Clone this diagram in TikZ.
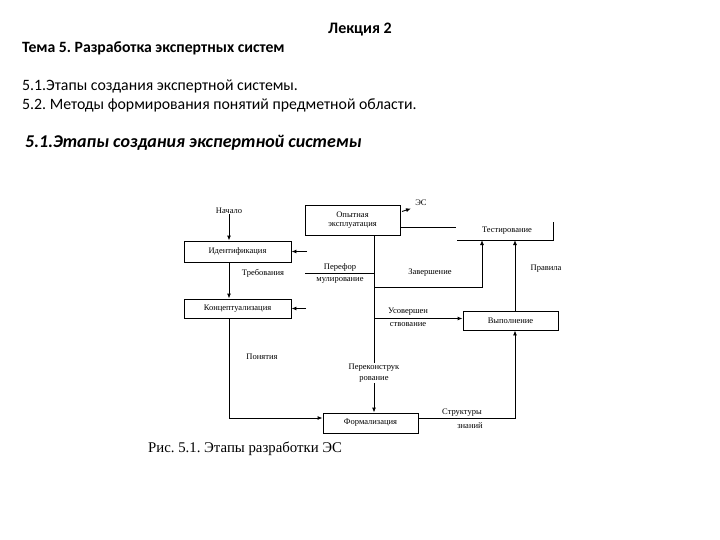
\documentclass[tikz,border=0pt]{standalone}
\usepackage{fontspec}
\setmainfont{Carlito}
\newfontfamily\tnr{Liberation Serif}
\usetikzlibrary{arrows.meta}
\frenchspacing
\begin{document}
\frenchspacing
\begin{tikzpicture}[x=1pt,y=-1pt,
  arr/.style={draw, line width=0.9pt, -{Latex[length=5pt,width=4pt]}},
  ln/.style={draw, line width=0.9pt},
  box/.style={draw, line width=0.9pt, inner sep=0pt, align=center, font=\tnr\fontsize{8.5}{9.5}\selectfont},
  lab/.style={inner sep=0pt, align=center, font=\tnr\fontsize{8.5}{10.5}\selectfont},
  hdr/.style={inner sep=0pt, anchor=west, font=\fontsize{15.8}{18}\selectfont}]
\useasboundingbox (0,0) rectangle (720,540);
% header texts
\node[inner sep=0pt, font=\fontsize{16}{18}\selectfont\bfseries] (lek) at (360,30) {Лекция 2};
\node[hdr, font=\fontsize{15.7}{18}\selectfont\bfseries] (tema) at (22,48) {Тема 5. Разработка экспертных систем};
\node[hdr] (p1) at (22,86) {5.1.Этапы создания экспертной системы.};
\node[hdr] (p2) at (22,105) {5.2. Методы формирования понятий предметной области.};
\node[hdr, font=\fontsize{18}{20}\selectfont\bfseries\itshape] (sec) at (25,143) {5.1.Этапы создания экспертной системы};
% boxes
\node[box, minimum width=107pt, minimum height=21pt] (ident) at (237.5,251.5) {Идентификация};
\node[box, minimum width=107pt, minimum height=19pt] (konc) at (237.5,308.5) {Концептуализация};
\node[box, minimum width=95pt, minimum height=20pt] (form) at (370.5,423) {Формализация};
\node[box, minimum width=95pt, minimum height=19pt] (vyp) at (510.5,320.5) {Выполнение};
\node[box, minimum width=95pt, minimum height=30pt] (opyt) at (352.5,220) {Опытная\\эксплуатация};
\node[lab] (test) at (507,231) {Тестирование};
% coordinates
\coordinate (spine) at (374,0);
\coordinate (pr) at (515,240);
\coordinate (zt) at (482,240);
\coordinate (zv) at (374,287);
\coordinate (pf) at (305,273);
\coordinate (a1) at (307,251.5);
\coordinate (a2) at (306,308.5);
\coordinate (t1) at (456,227);
\coordinate (tb1) at (457,240);
\coordinate (tb2) at (553,240);
\coordinate (tb3) at (553,222);
\coordinate (es1) at (402,211.5);
\coordinate (es2) at (411,208.5);
% Тестирование outline pieces
\draw[ln] (opyt.east |- t1) -- (t1);
\draw[ln] (tb1) -- (tb2) -- (tb3);
% labels
\node[lab] (nach) at (229,211) {Начало};
\node[lab] (treb) at (263,273) {Требования};
\node[lab] (pon) at (262,357) {Понятия};
\node[lab] (zav) at (430,273) {Завершение};
\node[lab] (prav) at (546,269) {Правила};
\node[lab] (pf1) at (340,267) {Перефор};
\node[lab] (pf2) at (340,280) {мулирование};
\node[lab] (us1) at (408,312) {Усовершен};
\node[lab] (us2) at (408,325) {ствование};
\node[lab] (st1) at (462,413) {Структуры};
\node[lab] (st2) at (470,426) {знаний};
\node[lab] (es) at (421,203) {ЭС};
% connectors
\draw[arr] (nach.south) -- (nach.south |- ident.north);
\draw[arr] (ident.south -| nach) -- (konc.north -| nach);
\draw[arr] (konc.south -| nach) |- ([yshift=5pt]form.west);
\draw[arr] (opyt.south -| spine) -- (form.north -| spine);
\node[lab, fill=white, inner sep=1pt] (rek) at (374,373) {Переконструк\\рование};
\draw[ln] (pf) -- (pf -| spine);
\draw[arr] (a1) -- (a1 -| ident.east);
\draw[arr] (a2) -- (a2 -| konc.east);
\draw[arr] (zv) -| (zt);
\draw[arr] (vyp.north -| pr) -- (pr);
\draw[arr] ([yshift=2pt]spine |- vyp.west) -- ([yshift=2pt]vyp.west);
\draw[arr] ([yshift=5pt]form.east) -| (vyp.south -| pr);
\draw[arr] (es1) -- (es2);
% caption
\node[inner sep=0pt, anchor=west, font=\tnr\fontsize{14.8}{17}\selectfont] (cap) at (148,449) {Рис. 5.1. Этапы разработки ЭС};
\end{tikzpicture}
\end{document}
